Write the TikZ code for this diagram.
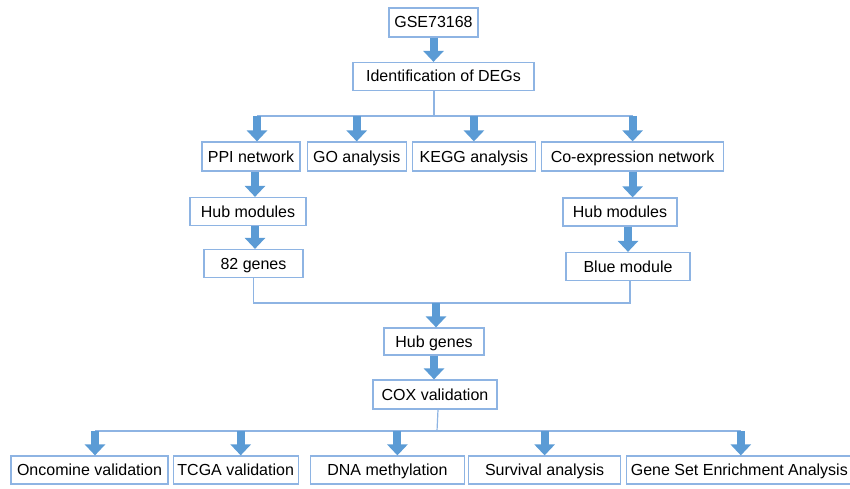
\documentclass[tikz,border=0pt]{standalone}
\usepackage{fontspec}
\setmainfont{Liberation Sans}
\usepackage{tikz}
\usetikzlibrary{arrows.meta, positioning}

\definecolor{boxline}{HTML}{8EB4E3}
\definecolor{arrowblue}{HTML}{5B9BD5}

\tikzset{
  box/.style={draw=boxline, line width=1.2pt, fill=white, minimum height=28pt,
    inner sep=0pt, text height=11.5pt, text depth=0.5pt, font=\fontsize{16}{18}\selectfont},
  conn/.style={draw=boxline, line width=1.2pt},
  bigarrow/.style={draw=arrowblue, line width=8pt, -{Triangle[width=20pt,length=11pt]}}
}

\begin{document}
\begin{tikzpicture}[x=1pt, y=-1pt]
  \useasboundingbox (0,0) rectangle (850,489);

    \node[box, minimum width=89pt, minimum height=29pt]  (gse)     at (433.5,22.5)  {GSE73168};
    \node[box, minimum width=181pt] (ident)   at (443.5,76.5)  {Identification of DEGs};

    \node[box, minimum width=98pt, minimum height=29pt]  (ppi)     at (251,156.5)   {PPI network};
    \node[box, minimum width=99pt, minimum height=29pt]  (go)      [right=6pt of ppi]    {GO analysis};
    \node[box, minimum width=123pt, minimum height=29pt] (kegg)    [right=5pt of go]     {KEGG analysis};
    \node[box, minimum width=182pt, minimum height=29pt] (coexp)   [right=5pt of kegg]   {Co-expression network};

    \node[box, minimum width=116pt] (hubl)    at (248,211.5)   {Hub modules};
    \node[box, minimum width=99pt]  (genes82) at (253.5,263.5) {82 genes};
    \node[box, minimum width=114pt] (hubr)    at (620,212)     {Hub modules};
    \node[box, minimum width=124pt] (blue)    at (628,266.5)   {Blue module};

    \node[box, minimum width=100pt, minimum height=27pt] (hubg) at (434,341.5) {Hub genes};
    \node[box, minimum width=124pt, minimum height=29pt] (cox)  at (435,394.5) {COX validation};

    \node[box, minimum width=157pt] (onco)  at (89.5,470)  {Oncomine validation};
    \node[box, minimum width=125pt] (tcga)  [right=4pt of onco]  {TCGA validation};
    \node[box, minimum width=154pt] (dna)   [right=11pt of tcga] {DNA methylation};
    \node[box, minimum width=152pt] (surv)  [right=3pt of dna]   {Survival analysis};
    \node[box, minimum width=225pt] (gsea)  [right=5pt of surv]  {Gene Set Enrichment Analysis};

    \coordinate (split1) at (434,116);
    \coordinate (merge)  at (434,303);
    \coordinate (split2) at (437,431);

    % top
    \draw[bigarrow] (gse.south) -- (gse.south |- ident.north);
    \draw[conn] (split1 |- ident.south) -- (split1);
    \draw[conn] ([xshift=6pt]split1 -| ppi) -- (split1 -| coexp);
    \draw[bigarrow] ([xshift=6pt]split1 -| ppi) -- ([xshift=6pt]ppi.north);
    \draw[bigarrow] (split1 -| go) -- (go.north);
    \draw[bigarrow] (split1 -| kegg) -- (kegg.north);
    \draw[bigarrow] (split1 -| coexp) -- (coexp.north);

    % left and right columns
    \draw[bigarrow] ([xshift=4pt]ppi.south) -- ([xshift=4pt]ppi.south |- hubl.north);
    \draw[bigarrow] ([xshift=1.5pt]genes82.north |- hubl.south) -- ([xshift=1.5pt]genes82.north);
    \draw[bigarrow] (coexp.south) -- (coexp.south |- hubr.north);
    \draw[bigarrow] (blue.north |- hubr.south) -- (blue.north);

    % merge
    \draw[conn] (genes82.south) -- (genes82.south |- merge) -- ([xshift=2pt]blue.south |- merge) -- ([xshift=2pt]blue.south);
    \draw[bigarrow] ([xshift=2pt]merge) -- ([xshift=2pt]hubg.north);
    \draw[bigarrow] (hubg.south) -- (hubg.south |- cox.north);

    % bottom
    \draw[conn] ([xshift=3pt]cox.south) -- (split2);
    \draw[conn] ([xshift=5.5pt]split2 -| onco) -- ([xshift=1.5pt]split2 -| gsea);
    \draw[bigarrow] ([xshift=5.5pt]split2 -| onco) -- ([xshift=5.5pt]onco.north);
    \draw[bigarrow] ([xshift=5pt]split2 -| tcga) -- ([xshift=5pt]tcga.north);
    \draw[bigarrow] ([xshift=10pt]split2 -| dna) -- ([xshift=10pt]dna.north);
    \draw[bigarrow] (split2 -| surv) -- (surv.north);
    \draw[bigarrow] ([xshift=1.5pt]split2 -| gsea) -- ([xshift=1.5pt]gsea.north);
\end{tikzpicture}
\end{document}
